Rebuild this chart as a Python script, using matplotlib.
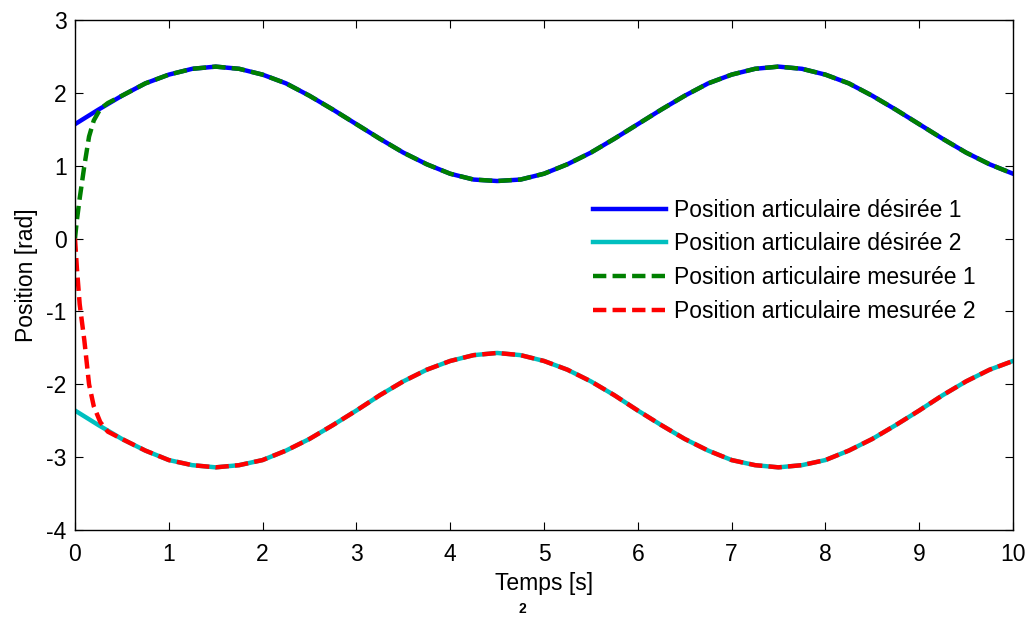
import matplotlib
matplotlib.use("Agg")
import matplotlib.pyplot as plt

plt.rcParams['font.family'] = ['Liberation Sans', 'DejaVu Sans']
plt.rcParams['axes.unicode_minus'] = False

# Desired joint trajectories, sampled every 0.25 s
t_des = [0.0, 0.25, 0.5, 0.75, 1.0, 1.25, 1.5, 1.75, 2.0, 2.25, 2.5, 2.75,
         3.0, 3.25, 3.5, 3.75, 4.0, 4.25, 4.5, 4.75, 5.0, 5.25, 5.5, 5.75,
         6.0, 6.25, 6.5, 6.75, 7.0, 7.25, 7.5, 7.75, 8.0, 8.25, 8.5, 8.75,
         9.0, 9.25, 9.5, 9.75, 10.0]
q1_des = [1.57, 1.77, 1.96, 2.13, 2.25, 2.33, 2.36, 2.33, 2.25, 2.13, 1.96, 1.77,
          1.57, 1.37, 1.18, 1.02, 0.89, 0.81, 0.79, 0.81, 0.89, 1.02, 1.18, 1.37,
          1.57, 1.77, 1.96, 2.13, 2.25, 2.33, 2.36, 2.33, 2.25, 2.13, 1.96, 1.77,
          1.57, 1.37, 1.18, 1.02, 0.89]
q2_des = [-2.36, -2.56, -2.75, -2.91, -3.04, -3.11, -3.14, -3.11, -3.04, -2.91, -2.75, -2.56,
          -2.36, -2.15, -1.96, -1.80, -1.68, -1.60, -1.57, -1.60, -1.68, -1.80, -1.96, -2.15,
          -2.36, -2.56, -2.75, -2.91, -3.04, -3.11, -3.14, -3.11, -3.04, -2.91, -2.75, -2.56,
          -2.36, -2.15, -1.96, -1.80, -1.68]

# Measured joint positions: start from rest at 0 rad, then track the reference
t_mes = [0.0, 0.02, 0.05, 0.1, 0.15, 0.2, 0.27, 0.35, 0.5, 0.75, 1.0, 1.25, 1.5, 1.75,
         2.0, 2.25, 2.5, 2.75, 3.0, 3.25, 3.5, 3.75, 4.0, 4.25, 4.5, 4.75, 5.0, 5.25,
         5.5, 5.75, 6.0, 6.25, 6.5, 6.75, 7.0, 7.25, 7.5, 7.75, 8.0, 8.25, 8.5, 8.75,
         9.0, 9.25, 9.5, 9.75, 10.0]
q1_mes = [0.0, 0.25, 0.55, 1.0, 1.4, 1.62, 1.78, 1.86, 1.96, 2.13, 2.25, 2.33, 2.36, 2.33,
          2.25, 2.13, 1.96, 1.77, 1.57, 1.37, 1.18, 1.02, 0.89, 0.81, 0.79, 0.81, 0.89, 1.02,
          1.18, 1.37, 1.57, 1.77, 1.96, 2.13, 2.25, 2.33, 2.36, 2.33, 2.25, 2.13, 1.96, 1.77,
          1.57, 1.37, 1.18, 1.02, 0.89]
q2_mes = [0.0, -0.4, -0.9, -1.4, -2.0, -2.3, -2.52, -2.65, -2.75, -2.91, -3.04, -3.11, -3.14, -3.11,
          -3.04, -2.91, -2.75, -2.56, -2.36, -2.15, -1.96, -1.80, -1.68, -1.60, -1.57, -1.60, -1.68, -1.80,
          -1.96, -2.15, -2.36, -2.56, -2.75, -2.91, -3.04, -3.11, -3.14, -3.11, -3.04, -2.91, -2.75, -2.56,
          -2.36, -2.15, -1.96, -1.80, -1.68]

labels = ['Position articulaire désirée 1', 'Position articulaire désirée 2',
          'Position articulaire mesurée 1', 'Position articulaire mesurée 2']
x_ticks = [0, 1, 2, 3, 4, 5, 6, 7, 8, 9, 10]
y_ticks = [-4, -3, -2, -1, 0, 1, 2, 3]

fig = plt.figure(figsize=(10.30, 6.17), dpi=100)
ax = fig.add_axes([0.0728, 0.141, 0.9107, 0.8266])

lw = 3.2
dash = (0, (3.0, 1.4))
ax.plot(t_des, q1_des, color='#0000ff', lw=lw, label=labels[0])
ax.plot(t_des, q2_des, color='#00bfbf', lw=lw, label=labels[1])
ax.plot(t_mes, q1_mes, color='#008000', lw=lw, ls=dash, label=labels[2])
ax.plot(t_mes, q2_mes, color='#ff0000', lw=lw, ls=dash, label=labels[3])

ax.set_xlim(0, 10)
ax.set_ylim(-4, 3)
ax.set_xticks(x_ticks)
ax.set_yticks(y_ticks)
ax.tick_params(direction='in', length=6, width=0.8, top=True, right=True,
               labelsize=16.5)
ax.tick_params(axis='x', pad=9)
ax.tick_params(axis='y', pad=6)
for s in ax.spines.values():
    s.set_linewidth(1.0)

ax.set_xlabel('Temps [s]', fontsize=16.5, labelpad=5)
ax.set_ylabel('Position [rad]', fontsize=16.5, labelpad=6)

ax.legend(loc='center left', bbox_to_anchor=(0.552, 0.528), frameon=False,
          fontsize=16.5, handlelength=3.2, handletextpad=0.36, labelspacing=0.47,
          borderpad=0, borderaxespad=0)

fig.text(522 / 1030, 1 - 609 / 617, '2', fontsize=10, fontweight='bold',
         ha='center', va='center')

fig.savefig('out.png', dpi=100)
